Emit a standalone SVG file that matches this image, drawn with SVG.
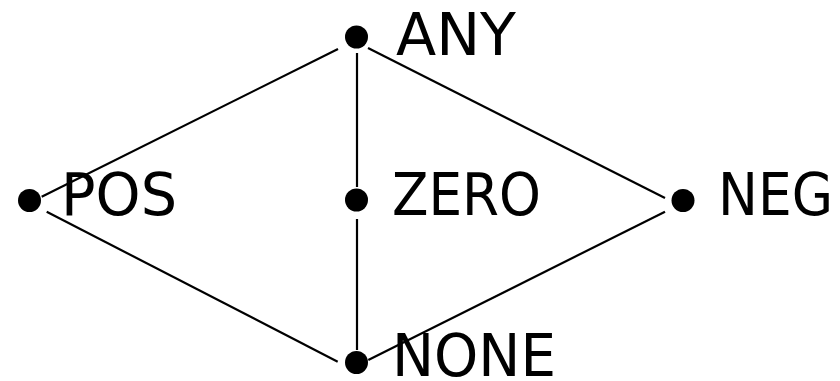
<svg xmlns="http://www.w3.org/2000/svg" width="840" height="381" viewBox="0 0 840 381">
<style>
.e{stroke:#000;stroke-width:2.2;fill:none}
.d{fill:#000}
.t{font-family:"DejaVu Sans",sans-serif;font-size:58px;fill:#000}
</style>
<rect width="840" height="381" fill="#fff"/>
<g id="edges">
<line class="e" x1="41.7" y1="196.7" x2="338" y2="49"/>
<line class="e" x1="368" y1="48" x2="665" y2="198"/>
<line class="e" x1="357" y1="53" x2="357" y2="187"/>
<line class="e" x1="357" y1="219" x2="357" y2="350"/>
<line class="e" x1="46.7" y1="211.7" x2="337.7" y2="361.7"/>
<line class="e" x1="665" y1="211.7" x2="368.3" y2="360"/>
</g>
<g id="any"><circle class="d" cx="356.5" cy="37" r="11.5"/><text class="t" x="396" y="55" textLength="120" lengthAdjust="spacingAndGlyphs">ANY</text></g>
<g id="pos"><circle class="d" cx="29.5" cy="200.5" r="11.5"/><text class="t" x="61" y="215" textLength="116" lengthAdjust="spacingAndGlyphs">POS</text></g>
<g id="zero"><circle class="d" cx="356.5" cy="200" r="11.5"/><text class="t" x="392" y="215" textLength="149" lengthAdjust="spacingAndGlyphs">ZERO</text></g>
<g id="neg"><circle class="d" cx="683" cy="200.5" r="11.5"/><text class="t" x="718" y="215" textLength="115" lengthAdjust="spacingAndGlyphs">NEG</text></g>
<g id="none"><circle class="d" cx="356.5" cy="362.5" r="11.5"/><text class="t" x="392" y="376" textLength="164" lengthAdjust="spacingAndGlyphs">NONE</text></g>
</svg>
